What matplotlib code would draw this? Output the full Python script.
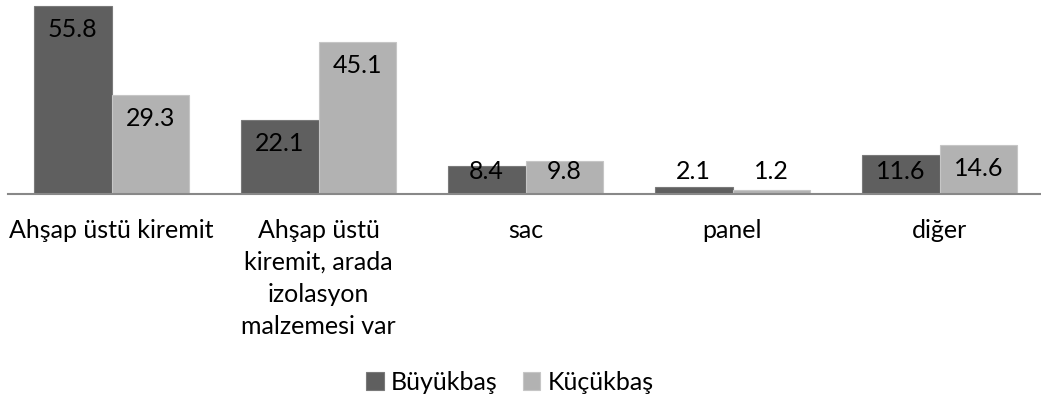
import numpy as np
import matplotlib.pyplot as plt

plt.rcParams['font.family'] = ['Lato', 'DejaVu Sans']

categories = ['Ahşap üstü kiremit', 'Ahşap üstü\nkiremit, arada\nizolasyon\nmalzemesi var',
              'sac', 'panel', 'diğer']
buyukbas = [55.8, 22.1, 8.4, 2.1, 11.6]
kucukbas = [29.3, 45.1, 9.8, 1.2, 14.6]
series_names = ['Büyükbaş', 'Küçükbaş']

W, H = 1041, 403
fig = plt.figure(figsize=(W / 100, H / 100), dpi=100)
ax = fig.add_axes([8 / W, 209 / H, 1035 / W, 194 / H])

x = np.arange(len(categories))
bw = 0.375
colors = ['#5f5f5f', '#b2b2b2']
edges = ['#7a7a7a', '#c6c6c6']

for i, (vals, name) in enumerate(zip([buyukbas, kucukbas], series_names)):
    pos = x + (i - 0.5) * bw
    ax.bar(pos, vals, bw, color=colors[i], edgecolor=edges[i], linewidth=0.8, label=name)
    for p, v in zip(pos, vals):
        # label sits just inside the bar top, but never below the baseline area
        ly = max(v - 7.0, 6.6)
        ax.text(p, ly, f'{v:.1f}', ha='center', va='center', fontsize=18, color='#000000')

ax.set_xlim(-0.5, 4.5)
ax.set_ylim(0, 57.6)
for s in ['top', 'right', 'left']:
    ax.spines[s].set_visible(False)
ax.spines['bottom'].set_color('#888888')
ax.spines['bottom'].set_linewidth(1.5)
ax.set_yticks([])
ax.set_xticks(x)
ax.set_xticklabels(categories, fontsize=18, linespacing=1.47, va='top')
ax.tick_params(axis='x', length=0, pad=18)

fig.legend(loc='center', bbox_to_anchor=(0.49, 0.052), ncol=2, frameon=False,
           fontsize=18, handlelength=0.7, handleheight=0.7, handletextpad=0.3,
           columnspacing=1.0)

fig.savefig('out.png', dpi=100)
